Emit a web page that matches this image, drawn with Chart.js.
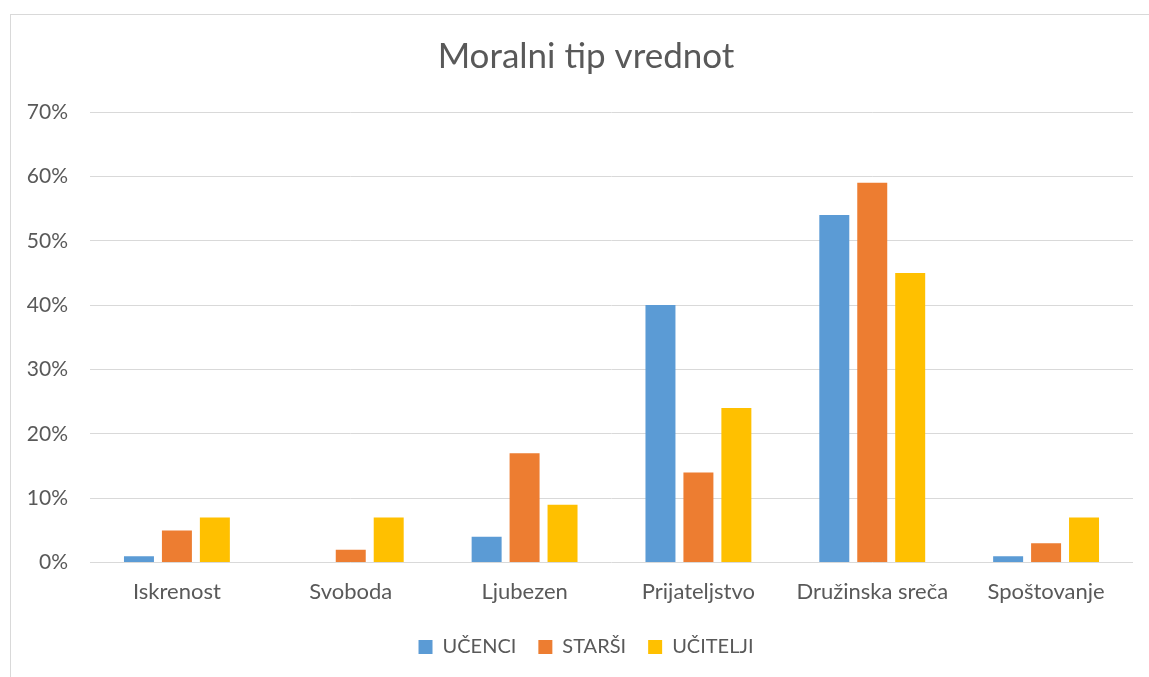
<!DOCTYPE html>
<html>
<head>
<meta charset="utf-8">
<script src="https://cdn.jsdelivr.net/npm/chart.js@4"></script>
<style>
  html, body { margin: 0; padding: 0; background: #fff; overflow: hidden; }
  #frame { position: absolute; left: 10px; top: 14px; width: 1180px; height: 700px; border-left: 1px solid #d9d9d9; border-top: 1px solid #d9d9d9; }
  #wrap { position: absolute; left: 0; top: 0; width: 1150px; height: 662px; }
</style>
</head>
<body>
<div id="frame"><div id="wrap"><canvas id="chart"></canvas></div></div>
<script>
const categories = ['Iskrenost', 'Svoboda', 'Ljubezen', 'Prijateljstvo', 'Družinska sreča', 'Spoštovanje'];
const ucenci = [1, 0, 4, 40, 54, 1];
const starsi = [5, 2, 17, 14, 59, 3];
const ucitelji = [7, 7, 9, 24, 45, 7];
const seriesNames = ['UČENCI', 'STARŠI', 'UČITELJI'];
const colors = ['#5B9BD5', '#ED7D31', '#FFC000'];

const fontFamily = 'Lato, "Open Sans", sans-serif';
const textColor = '#595959';

const ctx = document.getElementById('chart').getContext('2d');
const chart = new Chart(ctx, {
  type: 'bar',
  data: {
    labels: categories,
    datasets: [ucenci, starsi, ucitelji].map((d, i) => ({
      label: seriesNames[i],
      data: d,
      backgroundColor: colors[i],
      borderWidth: 0,
      categoryPercentage: 0.655,
      barPercentage: 0.79
    }))
  },
  options: {
    responsive: true,
    maintainAspectRatio: false,
    animation: false,
    layout: { padding: { left: 0, right: 0, top: 0, bottom: 10 } },
    plugins: {
      title: {
        display: true,
        text: 'Moralni tip vrednot',
        color: textColor,
        font: { family: fontFamily, size: 35, weight: 'normal' },
        padding: { top: 21, bottom: 34 }
      },
      legend: {
        position: 'bottom',
        labels: {
          color: textColor,
          font: { family: fontFamily, size: 20 },
          boxWidth: 14,
          boxHeight: 14,
          padding: 22
        }
      },
      tooltip: { enabled: false }
    },
    scales: {
      x: {
        afterFit: s => { s.height += 2; },
        grid: { display: false },
        border: { display: false },
        ticks: { color: textColor, font: { family: fontFamily, size: 22 }, padding: 8, maxRotation: 0 }
      },
      y: {
        min: 0,
        max: 70,
        afterFit: s => { s.width = 79; },
        grid: { color: '#d9d9d9', lineWidth: 1, drawTicks: false },
        border: { display: false },
        ticks: {
          stepSize: 10,
          color: textColor,
          font: { family: fontFamily, size: 21 },
          padding: 22,
          callback: v => v + '%'
        }
      },
      // empty right-hand axis that only keeps the blank margin on the right
      yRight: {
        position: 'right',
        min: 0,
        max: 70,
        afterFit: s => { s.width = 28; },
        grid: { display: false },
        border: { display: false },
        ticks: { display: false }
      }
    }
  }
});
</script>
</body>
</html>
